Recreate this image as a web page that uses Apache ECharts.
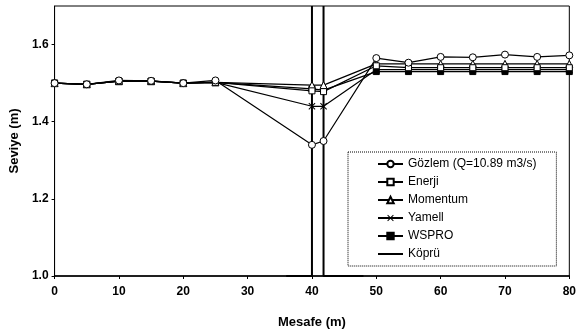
<!DOCTYPE html>
<html><head><meta charset="utf-8">
<script src="https://cdn.jsdelivr.net/npm/echarts@6/dist/echarts.min.js"></script>
<style>html,body{margin:0;padding:0;background:#fff}#c{width:579px;height:335px}</style>
</head><body><div id="c"></div>
<script>
const mesafe   = [0, 5, 10, 15, 20, 25, 40, 41.8, 50, 55, 60, 65, 70, 75, 80];
const gozlem   = [1.50, 1.497, 1.507, 1.506, 1.50, 1.507, 1.34, 1.35, 1.565, 1.553, 1.568, 1.567, 1.574, 1.568, 1.572];
const enerji   = [1.50, 1.497, 1.505, 1.505, 1.50, 1.502, 1.48, 1.478, 1.545, 1.54, 1.54, 1.54, 1.54, 1.54, 1.54];
const momentum = [1.50, 1.497, 1.505, 1.505, 1.50, 1.502, 1.495, 1.495, 1.55, 1.55, 1.55, 1.55, 1.55, 1.55, 1.55];
const yamell   = [1.50, 1.497, 1.505, 1.505, 1.50, 1.502, 1.44, 1.44, 1.535, 1.535, 1.535, 1.535, 1.535, 1.535, 1.535];
const wspro    = [1.50, 1.497, 1.505, 1.505, 1.50, 1.502, 1.485, 1.482, 1.53, 1.53, 1.53, 1.53, 1.53, 1.53, 1.53];
const kopruA   = [[36, 1.0], [40, 1.0], [40, 1.7]];
const kopruB   = [[41.8, 1.7], [41.8, 1.0], [48, 1.0]];
const xTicks = {min: 0, max: 80, interval: 10};
const yTicks = {min: 1.0, max: 1.7, interval: 0.2};

const pair = arr => mesafe.map((x, i) => [x, arr[i]]);
const XSYM = 'path://M0,1L1,0L5,4L9,0L10,1L6,5L10,9L9,10L5,6L1,10L0,9L4,5Z';
const font = 'Arial, "Liberation Sans", sans-serif';

function s(name, data, symbol, size, fill, extra) {
  return Object.assign({
    name, type: 'line', data, symbol, symbolSize: size, showSymbol: true,
    lineStyle: {color: '#000', width: 1.2},
    itemStyle: {color: fill, borderColor: '#000', borderWidth: 1},
    emphasis: {disabled: true}, animation: false, z: 3
  }, extra || {});
}

const chart = echarts.init(document.getElementById('c'), null, {renderer: 'canvas'});
chart.setOption({
  animation: false,
  backgroundColor: '#fff',
  grid: {left: 44, right: 7, top: 6, bottom: 59, show: true, borderColor: '#000', borderWidth: 1},
  xAxis: {
    type: 'value', min: xTicks.min, max: xTicks.max, interval: xTicks.interval,
    name: 'Mesafe (m)', nameLocation: 'middle', nameGap: 40,
    nameTextStyle: {fontFamily: font, fontSize: 13, color: '#000', fontWeight: 'bold'},
    axisLine: {lineStyle: {color: '#000', width: 1.5}},
    axisTick: {show: true, length: 3, lineStyle: {color: '#000'}},
    axisLabel: {fontFamily: font, fontSize: 12, color: '#000', margin: 10, fontWeight: 'bold'},
    splitLine: {show: false}
  },
  yAxis: {
    type: 'value', min: yTicks.min, max: yTicks.max, interval: yTicks.interval,
    name: 'Seviye (m)', nameLocation: 'middle', nameGap: 27, nameRotate: 90,
    nameTextStyle: {fontFamily: font, fontSize: 13, color: '#000', fontWeight: 'bold'},
    axisLine: {lineStyle: {color: '#000', width: 1}},
    axisTick: {show: true, length: 3, lineStyle: {color: '#000'}},
    axisLabel: {fontFamily: font, fontSize: 12, color: '#000', margin: 6, showMaxLabel: false,
      fontWeight: 'bold', formatter: v => v.toFixed(1)},
    splitLine: {show: false}
  },
  legend: {
    orient: 'vertical', left: 348, top: 152,
    padding: [5, 20, 5, 29],
    itemWidth: 25, itemHeight: 8, itemGap: 4,
    borderColor: '#000', borderWidth: 1, borderType: 'dotted',
    backgroundColor: '#fff',
    textStyle: {fontFamily: font, fontSize: 12, color: '#000', lineHeight: 14},
    data: ['Gözlem (Q=10.89 m3/s)', 'Enerji', 'Momentum', 'Yamell', 'WSPRO',
      {name: 'Köprü', itemStyle: {opacity: 0}}]
  },
  series: [
    s('Köprü', kopruA, 'none', 0, '#000', {lineStyle: {color: '#000', width: 2}, z: 2}),
    s('Köprü', kopruB, 'none', 0, '#000', {lineStyle: {color: '#000', width: 2}, z: 2}),
    s('WSPRO', pair(wspro), 'rect', 6, '#000'),
    s('Yamell', pair(yamell), XSYM, 7, '#000', {itemStyle: {color: '#000', borderWidth: 0}}),
    s('Momentum', pair(momentum), 'triangle', 7, '#fff'),
    s('Enerji', pair(enerji), 'rect', 6, '#fff'),
    s('Gözlem (Q=10.89 m3/s)', pair(gozlem), 'circle', 7, '#fff')
  ]
});
</script></body></html>
